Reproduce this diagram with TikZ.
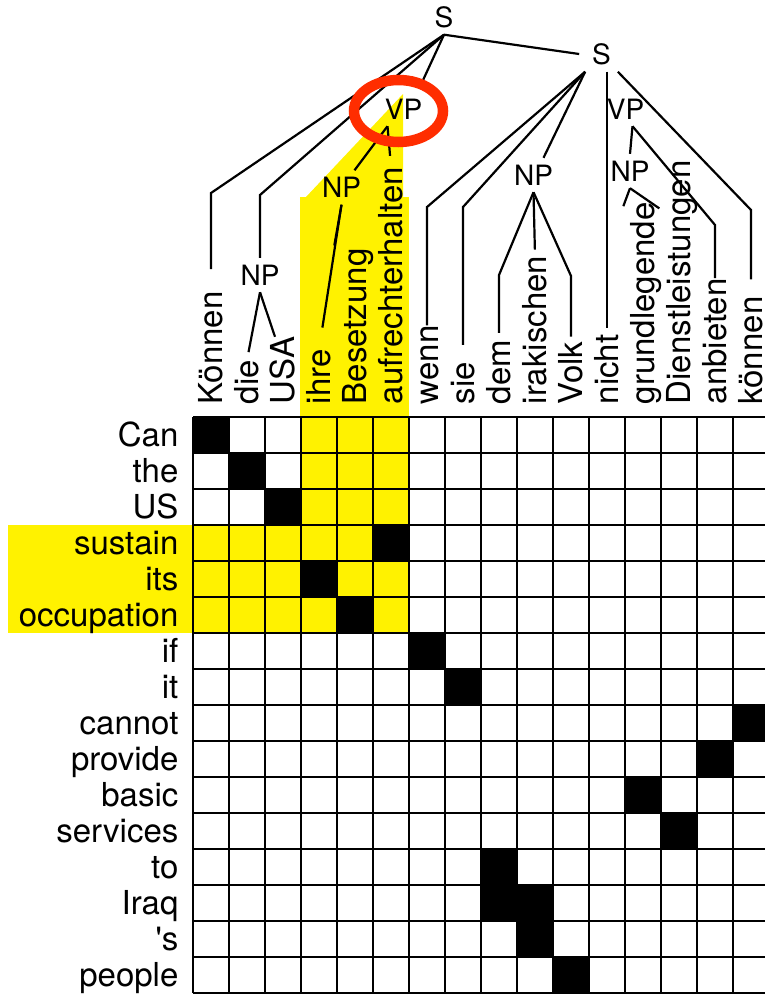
\documentclass[tikz,border=0pt]{standalone}
\usepackage{fontspec}
\setmainfont{TeX Gyre Heros}
\definecolor{circred}{RGB}{255,45,0}
\tikzset{
  cat/.style={font=\fontsize{28}{30}\selectfont, inner sep=0pt, outer sep=7pt},
  word/.style={font=\fontsize{33}{36}\selectfont, inner sep=0pt, text height=23pt, text depth=0pt, rotate=90, anchor=base west},
  engl/.style={font=\fontsize{33}{36}\selectfont, inner sep=0pt, anchor=base east},
  treeline/.style={line width=2.2pt},
}

\begin{document}
\begin{tikzpicture}[x=1pt,y=-1pt]
    \useasboundingbox (0,0) rectangle (764,996);
    % highlighted block
    \fill[yellow] (306,197) -- (403,94) -- (403,197) -- cycle;
    \fill[yellow] (300,197) rectangle (409,633);
    \fill[yellow] (8,525) rectangle (409,633);

    \begin{scope}[shift={(193,417)},x=36pt,y=-36pt]
    \fill (0,0) rectangle (1,1);
    \fill (1,1) rectangle (2,2);
    \fill (2,2) rectangle (3,3);
    \fill (5,3) rectangle (6,4);
    \fill (3,4) rectangle (4,5);
    \fill (4,5) rectangle (5,6);
    \fill (6,6) rectangle (7,7);
    \fill (7,7) rectangle (8,8);
    \fill (15,8) rectangle (16,9);
    \fill (14,9) rectangle (15,10);
    \fill (12,10) rectangle (13,11);
    \fill (13,11) rectangle (14,12);
    \fill (8,12) rectangle (9,13);
    \fill (8,13) rectangle (10,14);
    \fill (9,14) rectangle (10,15);
    \fill (10,15) rectangle (11,16);
    \draw[line width=2.5pt,step=36pt] (0,0) grid (16,16);

    \node[engl] (can) at (-0.4,0.82) {Can};
    \node[engl] (the) at (-0.4,1.82) {the};
    \node[engl] (us) at (-0.4,2.82) {US};
    \node[engl] (sustain) at (-0.4,3.82) {sustain};
    \node[engl] (its) at (-0.4,4.82) {its};
    \node[engl] (occup) at (-0.4,5.82) {occupation};
    \node[engl] (if) at (-0.4,6.82) {if};
    \node[engl] (it) at (-0.4,7.82) {it};
    \node[engl] (cannot) at (-0.4,8.82) {cannot};
    \node[engl] (provide) at (-0.4,9.82) {provide};
    \node[engl] (basic) at (-0.4,10.82) {basic};
    \node[engl] (services) at (-0.4,11.82) {services};
    \node[engl] (to) at (-0.4,12.82) {to};
    \node[engl] (iraq) at (-0.4,13.82) {Iraq};
    \node[engl] (poss) at (-0.4,14.82) {\textquotesingle s};
    \node[engl] (people) at (-0.4,15.82) {people};

    \node[word] (koennen) at (0.82,-0.35) {Können};
    \node[word] (die) at (1.82,-0.35) {die};
    \node[word] (usa) at (2.82,-0.35) {USA};
    \node[word] (ihre) at (3.82,-0.35) {ihre};
    \node[word] (besetzung) at (4.82,-0.35) {Besetzung};
    \node[word] (aufrecht) at (5.82,-0.35) {aufrechterhalten};
    \node[word] (wenn) at (6.82,-0.35) {wenn};
    \node[word] (sie) at (7.82,-0.35) {sie};
    \node[word] (dem) at (8.82,-0.35) {dem};
    \node[word] (irak) at (9.82,-0.35) {irakischen};
    \node[word] (volk) at (10.82,-0.35) {Volk};
    \node[word] (nicht) at (11.82,-0.35) {nicht};
    \node[word] (grundl) at (12.82,-0.35) {grundlegende};
    \node[word] (dienst) at (13.82,-0.35) {Dienstleistungen};
    \node[word] (anbieten) at (14.82,-0.35) {anbieten};
    \node[word] (koennenb) at (15.82,-0.35) {können};
    \end{scope}

    % tree
    \node[cat] (s1) at (444,17) {S};
    \node[cat] (s2) at (601.5,54) {S};
    \node[cat] (vpA) at (403.5,109) {VP};
    \node[cat] (vpB) at (625.5,109) {VP};
    \node[cat] (npA) at (260,275) {NP};
    \node[cat] (npB) at (341.5,187.5) {NP};
    \node[cat] (npC) at (533.5,175) {NP};
    \node[cat] (npD) at (630,171) {NP};

    \draw[treeline,shorten >=22pt] (s1.south) -- (koennen.east |- 0,193) -- (koennen.east);
    \draw[treeline] (s1.south) -- (npA.north |- 0,195) -- (npA.north);
    \draw[treeline] (s1.south) -- ([xshift=-6pt,yshift=12pt]vpA.north east);
    \draw[treeline] (s1.south) -- ([xshift=-6pt]s2.west);
    \draw[treeline,shorten >=8pt] (npA.south) -- (die.east);
    \draw[treeline] (npA.south) -- ([xshift=-8pt]usa.east);
    \draw[treeline] ([xshift=-16pt]vpA.south) -- ([xshift=13pt]npB.north);
    \draw[treeline,shorten >=11pt] ([xshift=-16pt]vpA.south) -- (aufrecht.east);
    \draw[treeline,shorten >=22pt] (npB.south) -- (ihre.east);
    \draw[treeline] (npB.south) -- ([xshift=-9pt,yshift=3pt]besetzung.north east);
    \draw[treeline] (s2.south west) -- (wenn.east |- 0,207) -- (wenn.east);
    \draw[treeline,shorten >=17pt] (s2.south west) -- (sie.east |- 0,207) -- (sie.east);
    \draw[treeline] (s2.south west) -- ([xshift=10pt]npC.north);
    \draw[treeline,shorten >=7pt] (npC.south) -- (dem.east |- 0,275) -- (dem.east);
    \draw[treeline,shorten >=6pt] (npC.south) -- (irak.east);
    \draw[treeline,shorten >=5pt] (npC.south) -- (volk.east |- 0,276) -- (volk.east);
    \draw[treeline,shorten >=6pt] (nicht.east |- s2.south) -- (nicht.east);
    \draw[treeline,shorten >=17pt] (s2.south east) -- (koennenb.east |- 0,210) -- (koennenb.east);
    \draw[treeline] ([xshift=7pt]vpB.south) -- (npD.north);
    \draw[treeline] ([xshift=7pt]vpB.south) -- (anbieten.east |- 0,225) -- (anbieten.east);
    \draw[treeline] (npD.south) -- ([xshift=-8pt,yshift=-4pt]grundl.north east);
    \draw[treeline] (npD.south) -- ([xshift=-8pt,yshift=-48pt]dienst.north east);

    % marked constituent
    \draw[line width=10.5pt,circred] (398.5,111) ellipse [x radius=44.5pt, y radius=31pt];
\end{tikzpicture}
\end{document}
